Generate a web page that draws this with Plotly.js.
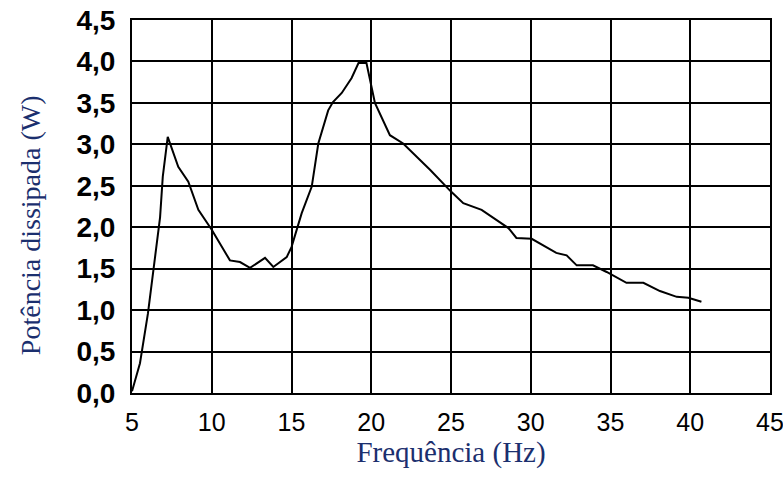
<!DOCTYPE html>
<html>
<head>
<meta charset="utf-8">
<script src="https://cdn.plot.ly/plotly-3.0.1.min.js"></script>
<style>html,body{margin:0;padding:0;background:#fff;}#chart{width:783px;height:492px;}</style>
</head>
<body>
<div id="chart"></div>
<script>
const frequency = [5.0, 5.5, 6.0, 6.33, 6.76, 6.93, 7.24, 7.9, 8.53, 9.16, 10.0, 11.14, 11.77, 12.4, 13.34, 13.86, 14.7, 15.0, 15.64, 16.27, 16.68, 17.3, 17.6, 18.15, 18.77, 19.2, 19.7, 20.23, 21.17, 22.0, 23.7, 25.0, 25.77, 26.92, 28.6, 29.1, 30.06, 31.6, 32.25, 32.88, 33.9, 34.76, 36.0, 37.06, 38.1, 39.15, 39.88, 40.7];
const power = [0.02, 0.36, 0.96, 1.45, 2.12, 2.61, 3.09, 2.73, 2.55, 2.21, 1.97, 1.60, 1.58, 1.51, 1.63, 1.52, 1.64, 1.76, 2.17, 2.49, 3.01, 3.41, 3.51, 3.62, 3.80, 3.98, 3.98, 3.50, 3.11, 3.01, 2.69, 2.43, 2.29, 2.21, 1.99, 1.87, 1.86, 1.69, 1.66, 1.54, 1.54, 1.46, 1.33, 1.33, 1.23, 1.16, 1.15, 1.10];
const xTickVals = [5, 10, 15, 20, 25, 30, 35, 40, 45];
const xTickText = ["5", "10", "15", "20", "25", "30", "35", "40", "45"];
const yTickVals = [0, 0.5, 1, 1.5, 2, 2.5, 3, 3.5, 4, 4.5];
const yTickText = ["0,0", "0,5", "1,0", "1,5", "2,0", "2,5", "3,0", "3,5", "4,0", "4,5"];
const xTitle = "Frequência (Hz)";
const yTitle = "Potência dissipada (W)";

const trace = {
  x: frequency, y: power, type: 'scatter', mode: 'lines',
  line: {color: '#000', width: 2}, hoverinfo: 'skip'
};
const layout = {
  width: 783, height: 492,
  margin: {l: 132, r: 13, t: 20, b: 99},
  paper_bgcolor: '#fff', plot_bgcolor: '#fff',
  showlegend: false,
  xaxis: {
    range: [5, 45], tickvals: xTickVals, ticktext: xTickText,
    showgrid: true, gridcolor: '#000', gridwidth: 2,
    showline: true, linecolor: '#000', linewidth: 2, mirror: true,
    zeroline: false, ticks: '', ticklabelstandoff: 6, ticklabeloverflow: 'allow',
    tickfont: {family: 'Liberation Sans, Arial, sans-serif', size: 25, color: '#000'},
    title: {text: xTitle, standoff: 6, font: {family: 'Liberation Serif, Times New Roman, serif', size: 29, color: '#1b2f6e'}}
  },
  yaxis: {
    range: [0, 4.5], tickvals: yTickVals, ticktext: yTickText,
    showgrid: true, gridcolor: '#000', gridwidth: 2,
    showline: true, linecolor: '#000', linewidth: 2, mirror: true,
    zeroline: false, ticks: '', ticklabelstandoff: 9,
    tickfont: {family: 'Liberation Sans, Arial, sans-serif', size: 28, color: '#000', weight: 'bold'}
  },
  annotations: [{
    text: yTitle, xref: 'paper', yref: 'paper', x: 0, y: 0.45,
    xanchor: 'center', yanchor: 'middle', xshift: -102, textangle: -90,
    showarrow: false,
    font: {family: 'Liberation Serif, Times New Roman, serif', size: 28, color: '#1b2f6e'}
  }]
};
Plotly.newPlot('chart', [trace], layout, {staticPlot: true, displayModeBar: false});
</script>
</body>
</html>
